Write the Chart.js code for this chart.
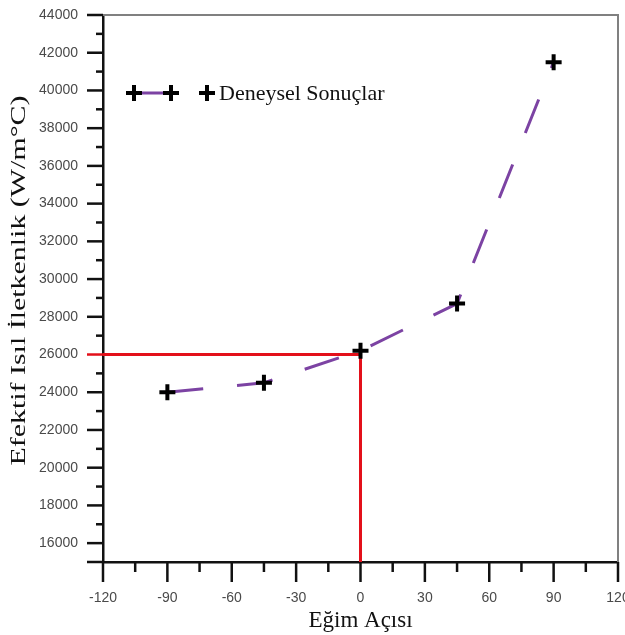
<!DOCTYPE html>
<html>
<head>
<meta charset="utf-8">
<script src="https://cdn.jsdelivr.net/npm/chart.js@4/dist/chart.umd.min.js"></script>
<style>
  html, body { margin: 0; padding: 0; background: #ffffff; overflow: hidden; }
  #wrap { width: 625px; height: 635px; position: relative; overflow: hidden; }
  #c { width: 640px; height: 635px; display: block; }
</style>
</head>
<body>
<div id="wrap"><canvas id="c" width="640" height="635"></canvas></div>
<script>
// Inclination angle (degrees) and effective thermal conductivity (W/m°C)
const ANGLES = [-90, -45, 0, 45, 90];
const CONDUCTIVITY = [24000, 24500, 26200, 28700, 41500];

// Reference reading marked with red guide lines
const REF_ANGLE = 0;
const REF_K = 26000;

// Axis ranges and tick spacing
const X_MIN = -120, X_MAX = 120, X_STEP = 15, X_LABEL_STEP = 30;
const Y_MIN = 15000, Y_MAX = 44000, Y_STEP = 1000, Y_LABEL_STEP = 2000;

const SERIES_NAME = 'Deneysel Sonuçlar';
const X_TITLE = 'Eğim Açısı';
const Y_TITLE = 'Efektif Isıl İletkenlik (W/m°C)';

const PURPLE = '#7c43a3';
const RED = '#e3101a';
const TICK_GRAY = '#4a4a4a';
const SERIF = '"Liberation Serif", "DejaVu Serif", serif';
const SANS = '"Liberation Sans", Arial, sans-serif';

// Outward tick marks (major + minor), the light frame on top/right,
// and the vertical axis title
const axisDecor = {
  id: 'axisDecor',
  afterDatasetsDraw(chart) {
    const { ctx, chartArea: a, scales: { x, y } } = chart;
    ctx.save();
    ctx.strokeStyle = '#808080';
    ctx.lineWidth = 2;
    ctx.beginPath();
    ctx.moveTo(a.left, a.top);
    ctx.lineTo(a.right, a.top);
    ctx.lineTo(a.right, a.bottom);
    ctx.stroke();

    ctx.lineWidth = 2.5;
    for (let v = Y_MIN; v <= Y_MAX; v += Y_STEP) {
      const major = v % Y_LABEL_STEP === 0 || v === Y_MIN;
      const py = y.getPixelForValue(v);
      ctx.strokeStyle = v === REF_K ? RED : '#111';
      ctx.beginPath();
      ctx.moveTo(a.left - (major ? 16 : 7), py);
      ctx.lineTo(a.left, py);
      ctx.stroke();
    }
    ctx.strokeStyle = '#111';
    for (let v = X_MIN; v <= X_MAX; v += X_STEP) {
      const major = v % X_LABEL_STEP === 0;
      const px = x.getPixelForValue(v);
      ctx.beginPath();
      ctx.moveTo(px, a.bottom);
      ctx.lineTo(px, a.bottom + (major ? 20 : 10));
      ctx.stroke();
    }

    // y-axis title, rotated and drawn elongated along its baseline
    ctx.translate(19, (a.top + a.bottom) / 2 - 8);
    ctx.rotate(-Math.PI / 2);
    ctx.scale(1.36, 1);
    ctx.fillStyle = '#111';
    ctx.font = '22px ' + SERIF;
    ctx.textAlign = 'center';
    ctx.textBaseline = 'middle';
    ctx.fillText(Y_TITLE, 0, 0);
    ctx.restore();
  }
};

// Legend: line sample with markers, a lone marker, then the series name
const seriesLegend = {
  id: 'seriesLegend',
  afterDraw(chart) {
    const { ctx } = chart;
    const yMid = 93;
    const mark = { pointStyle: 'cross', radius: 8, borderWidth: 4 };
    ctx.save();
    ctx.strokeStyle = PURPLE;
    ctx.lineWidth = 3;
    ctx.beginPath();
    ctx.moveTo(134, yMid);
    ctx.lineTo(171, yMid);
    ctx.stroke();
    ctx.strokeStyle = '#000';
    ctx.fillStyle = '#000';
    ctx.lineWidth = 4;
    [134, 171, 207].forEach(px => Chart.helpers.drawPoint(ctx, mark, px, yMid));
    ctx.fillStyle = '#111';
    ctx.font = '22px ' + SERIF;
    ctx.textBaseline = 'middle';
    ctx.textAlign = 'left';
    ctx.fillText(SERIES_NAME, 219, yMid + 1);
    ctx.restore();
  }
};

new Chart(document.getElementById('c'), {
  type: 'scatter',
  data: {
    datasets: [
      {
        label: SERIES_NAME,
        data: ANGLES.map((a, i) => ({ x: a, y: CONDUCTIVITY[i] })),
        showLine: true,
        tension: 0,
        borderColor: PURPLE,
        borderWidth: 3,
        borderDash: [36, 34],
        pointStyle: 'cross',
        pointRadius: 8,
        pointHoverRadius: 8,
        pointBorderWidth: 4,
        pointBorderColor: '#000',
        pointBackgroundColor: '#000'
      },
      {
        label: 'ref',
        data: [
          { x: X_MIN, y: REF_K },
          { x: REF_ANGLE, y: REF_K },
          { x: REF_ANGLE, y: Y_MIN }
        ],
        showLine: true,
        tension: 0,
        borderColor: RED,
        borderWidth: 3,
        pointRadius: 0,
        pointHoverRadius: 0
      }
    ]
  },
  options: {
    responsive: false,
    maintainAspectRatio: false,
    animation: false,
    events: [],
    layout: { padding: { top: 15, right: 22, left: 0, bottom: 0 } },
    plugins: {
      legend: { display: false },
      tooltip: { enabled: false }
    },
    scales: {
      x: {
        type: 'linear',
        min: X_MIN,
        max: X_MAX,
        afterBuildTicks(scale) {
          const t = [];
          for (let v = X_MIN; v <= X_MAX; v += X_STEP) t.push({ value: v });
          scale.ticks = t;
        },
        afterFit(scale) {
          scale.height = 73;
          scale.paddingLeft = 0;
          scale.paddingRight = 0;
        },
        ticks: {
          autoSkip: false,
          maxRotation: 0,
          padding: 28,
          color: TICK_GRAY,
          font: { family: SANS, size: 14 },
          callback: v => (v % X_LABEL_STEP === 0 ? String(v) : '')
        },
        grid: { drawOnChartArea: false, drawTicks: false },
        border: { display: true, color: '#111', width: 2.5 },
        title: {
          display: true,
          text: X_TITLE,
          color: '#111',
          font: { family: SERIF, size: 23 },
          padding: { top: 0, bottom: 0 }
        }
      },
      y: {
        type: 'linear',
        min: Y_MIN,
        max: Y_MAX,
        afterBuildTicks(scale) {
          const t = [];
          for (let v = Y_MIN; v <= Y_MAX; v += Y_STEP) t.push({ value: v });
          scale.ticks = t;
        },
        afterFit(scale) {
          scale.width = 103;
          scale.paddingTop = 0;
          scale.paddingBottom = 0;
        },
        ticks: {
          autoSkip: false,
          padding: 25,
          color: TICK_GRAY,
          font: { family: SANS, size: 14 },
          callback: v => (v % Y_LABEL_STEP === 0 ? String(v) : '')
        },
        grid: { drawOnChartArea: false, drawTicks: false },
        border: { display: true, color: '#111', width: 2.5 },
        title: { display: false }
      }
    }
  },
  plugins: [axisDecor, seriesLegend]
});
</script>
</body>
</html>
